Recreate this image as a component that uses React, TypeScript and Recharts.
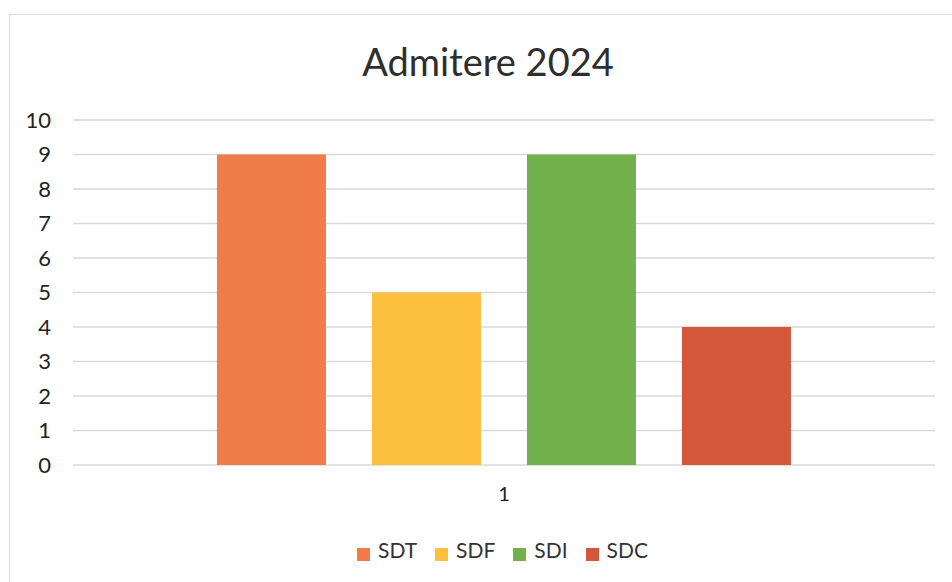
import React from "react";
import { BarChart, Bar, XAxis, YAxis, CartesianGrid, Legend } from "recharts";

const categories = ["1"];
const seriesNames = ["SDT", "SDF", "SDI", "SDC"];
const sdtValues = [9];
const sdfValues = [5];
const sdiValues = [9];
const sdcValues = [4];
const yTicks = [0, 1, 2, 3, 4, 5, 6, 7, 8, 9, 10];
const colors = ["#F07C4A", "#FDC03D", "#71B04A", "#D2573B"];

const data = categories.map((c, i) => ({
  name: c,
  SDT: sdtValues[i],
  SDF: sdfValues[i],
  SDI: sdiValues[i],
  SDC: sdcValues[i],
}));

const FONT = "Lato, 'Open Sans', sans-serif";

export default function App() {
  return (
    <div style={{ position: "absolute", left: 0, top: 0, width: 952, height: 582, background: "#fff" }}>
      <div
        style={{
          position: "absolute",
          left: 9,
          top: 14,
          width: 960,
          height: 600,
          border: "1px solid #D9D9D9",
          boxSizing: "border-box",
        }}
      />
      <div
        style={{
          position: "absolute",
          left: 0,
          top: 37,
          width: 976,
          textAlign: "center",
          fontFamily: FONT,
          fontSize: 38,
          color: "#2e2e2e",
          lineHeight: "48px",
        }}
      >
        Admitere 2024
      </div>
      <BarChart
        width={952}
        height={582}
        data={data}
        margin={{ top: 120, right: 17, bottom: 20, left: 0 }}
        barCategoryGap="16.7%"
        barGap={46}
      >
        <CartesianGrid vertical={false} stroke="#D9D9D9" strokeWidth={1.5} />
        <XAxis
          dataKey="name"
          axisLine={false}
          tickLine={false}
          height={72}
          tickMargin={16}
          tick={{ fontFamily: FONT, fontSize: 20, fill: "#222" }}
        />
        <YAxis
          domain={[0, 10]}
          ticks={yTicks}
          interval={0}
          axisLine={false}
          tickLine={false}
          width={73}
          tickSize={0}
          tickMargin={22}
          tick={{ fontFamily: FONT, fontSize: 22, fill: "#222" }}
        />
        <Legend
          verticalAlign="bottom"
          align="center"
          iconType="square"
          iconSize={13}
          wrapperStyle={{ left: 44 }}
          itemSorter={(item: any) => seriesNames.indexOf(item.value)}
          formatter={(v: string) => (
            <span style={{ color: "#333", fontFamily: FONT, fontSize: 21, marginLeft: 4, marginRight: 8 }}>{v}</span>
          )}
        />
        {seriesNames.map((s, i) => (
          <Bar key={s} dataKey={s} fill={colors[i]} isAnimationActive={false} />
        ))}
      </BarChart>
    </div>
  );
}
